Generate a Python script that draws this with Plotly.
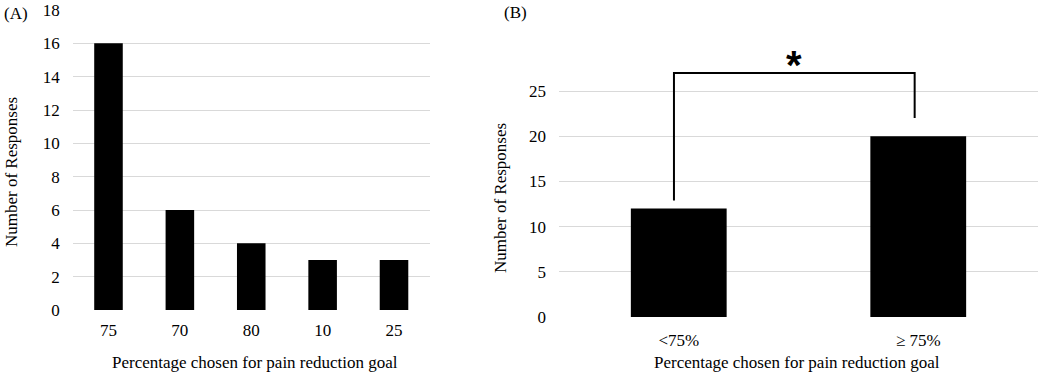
import plotly.graph_objects as go
from plotly.subplots import make_subplots

# ---- data ----
cats_a = ["75", "70", "80", "10", "25"]
vals_a = [16, 6, 4, 3, 3]
ticks_a = [0, 2, 4, 6, 8, 10, 12, 14, 16, 18]

cats_b = ["<75%", "\u2265 75%"]
vals_b = [12, 20]
ticks_b = [0, 5, 10, 15, 20, 25]

x_title = "Percentage chosen for pain reduction goal"
y_title = "Number of Responses"

FONT = "Liberation Serif, Times New Roman, DejaVu Serif, serif"
GRID = "#d9d9d9"

fig = make_subplots(rows=1, cols=2)

fig.add_trace(go.Bar(x=cats_a, y=vals_a, marker=dict(color="black", line=dict(width=0)),
                     width=0.4, showlegend=False), row=1, col=1)
fig.add_trace(go.Bar(x=cats_b, y=vals_b, marker=dict(color="black", line=dict(width=0)),
                     width=0.4, showlegend=False), row=1, col=2)

W, H = 1040, 372
def px_x(p): return p / W
def px_y(p): return 1 - p / H

tf = dict(family=FONT, size=17, color="black")
fig.update_layout(
    width=W, height=H,
    margin=dict(l=0, r=0, t=0, b=0, autoexpand=False),
    paper_bgcolor="white", plot_bgcolor="white",
    font=dict(family=FONT, size=17, color="black"),
    xaxis=dict(domain=[px_x(72.8), px_x(429.7)], type="category", showgrid=False,
               showline=False, zeroline=False, ticks="", ticklabelstandoff=8,
               tickfont=tf, automargin=False),
    yaxis=dict(domain=[px_y(310), px_y(10)], range=[0, 18], tickvals=ticks_a,
               showgrid=True, gridcolor=GRID, gridwidth=1, zeroline=False,
               showline=False, ticks="", ticklabelstandoff=12, tickfont=tf,
               automargin=False),
    xaxis2=dict(domain=[px_x(559), px_x(1038)], type="category", showgrid=False,
                showline=False, zeroline=False, ticks="", ticklabelstandoff=11,
                tickfont=tf, automargin=False),
    yaxis2=dict(domain=[px_y(317), px_y(68.4)], range=[0, 27.5], tickvals=ticks_b,
                showgrid=True, gridcolor=GRID, gridwidth=1, zeroline=False,
                showline=False, ticks="", ticklabelstandoff=12, tickfont=tf,
                automargin=False),
    bargap=0.6,
)

# significance bracket (derived from bar values)
top = max(vals_b) + 7
left_bot = vals_b[0] + 0.9
right_bot = vals_b[1] + 2
xl, xr = -0.02, 0.985
fig.add_shape(type="path",
              path=f"M {xl} {left_bot} L {xl} {top} L {xr} {top} L {xr} {right_bot}",
              xref="x2", yref="y2", line=dict(color="black", width=2))
fig.add_annotation(x=(xl + xr) / 2, y=top, xref="x2", yref="y2", text="<b>*</b>",
                   showarrow=False, yanchor="bottom", yshift=-16,
                   font=dict(family="Liberation Sans, Arial, sans-serif", size=40, color="black"))

# panel labels
fig.add_annotation(x=px_x(2), y=px_y(14), xref="paper", yref="paper", text="(A)",
                   showarrow=False, xanchor="left", yanchor="middle", font=tf)
fig.add_annotation(x=px_x(502), y=px_y(13), xref="paper", yref="paper", text="(B)",
                   showarrow=False, xanchor="left", yanchor="middle", font=tf)

# axis titles
ttf = dict(family=FONT, size=17, color="black")
fig.add_annotation(x=px_x(255), y=px_y(362), xref="paper", yref="paper", text=x_title,
                   showarrow=False, xanchor="center", yanchor="middle", font=ttf)
fig.add_annotation(x=px_x(797), y=px_y(362), xref="paper", yref="paper", text=x_title,
                   showarrow=False, xanchor="center", yanchor="middle", font=ttf)
fig.add_annotation(x=px_x(11), y=px_y(172), xref="paper", yref="paper", text=y_title,
                   textangle=-90, showarrow=False, xanchor="center", yanchor="middle",
                   font=ttf)
fig.add_annotation(x=px_x(500), y=px_y(198), xref="paper", yref="paper", text=y_title,
                   textangle=-90, showarrow=False, xanchor="center", yanchor="middle",
                   font=ttf)

fig.write_html("out.html", config={"displayModeBar": False},
               post_script="document.body.style.margin='0';document.body.style.padding='0';")
